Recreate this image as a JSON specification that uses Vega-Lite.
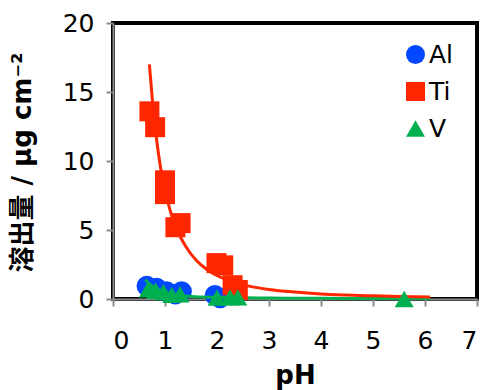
{
  "$schema": "https://vega.github.io/schema/vega-lite/v6.json",
  "width": 364,
  "height": 276,
  "autosize": {"type": "none"},
  "padding": {"left": 113, "top": 23, "right": 7, "bottom": 91},
  "config": {
    "font": "DejaVu Sans, Noto Sans CJK JP",
    "view": {"stroke": "black", "strokeWidth": 4},
    "axis": {
      "grid": false,
      "domainColor": "#8c8c8c",
      "domainWidth": 2,
      "tickColor": "#8c8c8c",
      "tickWidth": 2,
      "tickSize": 7,
      "labelFontSize": 25,
      "labelColor": "black",
      "titleColor": "black",
      "titleFontWeight": "bold"
    },
    "legend": {
      "orient": "none",
      "legendX": 290,
      "legendY": 19,
      "padding": 0,
      "labelFontSize": 25,
      "labelColor": "black",
      "labelOffset": 1,
      "rowPadding": 11,
      "symbolSize": 360,
      "symbolOpacity": 1,
      "symbolStrokeWidth": 0
    }
  },
  "datasets": {
    "pts": [
      {"series": "Al", "pH": 0.65, "amount": 0.95},
      {"series": "Al", "pH": 0.84, "amount": 0.8},
      {"series": "Al", "pH": 1.03, "amount": 0.55},
      {"series": "Al", "pH": 1.2, "amount": 0.35},
      {"series": "Al", "pH": 1.32, "amount": 0.55},
      {"series": "Al", "pH": 1.96, "amount": 0.28},
      {"series": "Al", "pH": 2.06, "amount": 0.08},
      {"series": "Ti", "pH": 0.7, "amount": 13.6},
      {"series": "Ti", "pH": 0.81, "amount": 12.45},
      {"series": "Ti", "pH": 1.0, "amount": 8.6},
      {"series": "Ti", "pH": 1.0, "amount": 7.6},
      {"series": "Ti", "pH": 1.2, "amount": 5.2},
      {"series": "Ti", "pH": 1.3, "amount": 5.5},
      {"series": "Ti", "pH": 1.99, "amount": 2.6},
      {"series": "Ti", "pH": 2.12, "amount": 2.44},
      {"series": "Ti", "pH": 2.3, "amount": 1.0},
      {"series": "Ti", "pH": 2.4, "amount": 0.65},
      {"series": "V", "pH": 0.68, "amount": 0.7},
      {"series": "V", "pH": 0.82, "amount": 0.6},
      {"series": "V", "pH": 0.97, "amount": 0.5},
      {"series": "V", "pH": 1.13, "amount": 0.3},
      {"series": "V", "pH": 1.29, "amount": 0.35},
      {"series": "V", "pH": 2.0, "amount": 0.1},
      {"series": "V", "pH": 2.25, "amount": 0.12},
      {"series": "V", "pH": 2.4, "amount": 0.12},
      {"series": "V", "pH": 5.6, "amount": 0.0}
    ],
    "tiFit": [
      {"pH": 0.7, "amount": 17.0},
      {"pH": 0.76, "amount": 14.3},
      {"pH": 0.84, "amount": 11.5},
      {"pH": 0.92, "amount": 9.4},
      {"pH": 1.0, "amount": 7.9},
      {"pH": 1.1, "amount": 6.4},
      {"pH": 1.2, "amount": 5.3},
      {"pH": 1.4, "amount": 3.8},
      {"pH": 1.6, "amount": 2.8},
      {"pH": 1.8, "amount": 2.15},
      {"pH": 2.0, "amount": 1.7},
      {"pH": 2.3, "amount": 1.25},
      {"pH": 2.6, "amount": 0.95},
      {"pH": 3.0, "amount": 0.69},
      {"pH": 3.5, "amount": 0.5},
      {"pH": 4.0, "amount": 0.37},
      {"pH": 4.5, "amount": 0.29},
      {"pH": 5.0, "amount": 0.23},
      {"pH": 5.5, "amount": 0.18},
      {"pH": 6.1, "amount": 0.15}
    ],
    "vFit": [
      {"pH": 0.62, "amount": 1.4},
      {"pH": 0.7, "amount": 1.1},
      {"pH": 0.8, "amount": 0.8},
      {"pH": 0.9, "amount": 0.6},
      {"pH": 1.0, "amount": 0.45},
      {"pH": 1.2, "amount": 0.3},
      {"pH": 1.5, "amount": 0.18},
      {"pH": 2.0, "amount": 0.12},
      {"pH": 2.5, "amount": 0.09},
      {"pH": 3.0, "amount": 0.07},
      {"pH": 4.0, "amount": 0.05},
      {"pH": 5.0, "amount": 0.04},
      {"pH": 6.1, "amount": 0.03}
    ]
  },
  "encoding": {
    "x": {
      "field": "pH",
      "type": "quantitative",
      "scale": {"domain": [0, 7], "nice": false, "zero": false},
      "axis": {
        "values": [0, 1, 2, 3, 4, 5, 6, 7],
        "title": "pH",
        "titleFontSize": 26,
        "labelPadding": 22,
        "titleX": 182,
        "titleY": 76,
        "titleBaseline": "middle",
        "titleAlign": "center"
      }
    },
    "y": {
      "field": "amount",
      "type": "quantitative",
      "scale": {"domain": [0, 20], "nice": false},
      "axis": {
        "values": [0, 5, 10, 15, 20],
        "title": "溶出量 / μg cm⁻²",
        "titleFontSize": 26,
        "labelPadding": 12,
        "titleAngle": -90,
        "titleX": -91,
        "titleY": 139,
        "titleBaseline": "middle",
        "titleAlign": "center"
      }
    }
  },
  "layer": [
    {
      "data": {"name": "pts"},
      "transform": [{"filter": "datum.series === 'Al'"}],
      "mark": {"type": "point", "filled": true, "opacity": 1, "size": 420, "strokeWidth": 0},
      "encoding": {
        "color": {"field": "series", "type": "nominal", "scale": {"domain": ["Al", "Ti", "V"], "range": ["#0047ff", "#ff2600", "#00b050"]}, "legend": {"title": null}},
        "shape": {"field": "series", "type": "nominal", "scale": {"domain": ["Al", "Ti", "V"], "range": ["circle", "square", "triangle-up"]}, "legend": {"title": null}}
      }
    },
    {
      "data": {"name": "vFit"},
      "mark": {"type": "line", "color": "#00b050", "strokeWidth": 3, "interpolate": "monotone"},
      "encoding": {}
    },
    {
      "data": {"name": "tiFit"},
      "mark": {"type": "line", "color": "#ff2600", "strokeWidth": 3, "interpolate": "monotone"},
      "encoding": {}
    },
    {
      "data": {"name": "pts"},
      "transform": [{"filter": "datum.series !== 'Al'"}],
      "mark": {"type": "point", "filled": true, "opacity": 1, "strokeWidth": 0},
      "encoding": {
        "color": {"field": "series", "type": "nominal", "scale": {"domain": ["Al", "Ti", "V"], "range": ["#0047ff", "#ff2600", "#00b050"]}, "legend": {"title": null}},
        "shape": {"field": "series", "type": "nominal", "scale": {"domain": ["Al", "Ti", "V"], "range": ["circle", "square", "triangle-up"]}, "legend": {"title": null}},
        "size": {"condition": {"test": "datum.series === 'Ti'", "value": 400}, "value": 360}
      }
    }
  ]
}
